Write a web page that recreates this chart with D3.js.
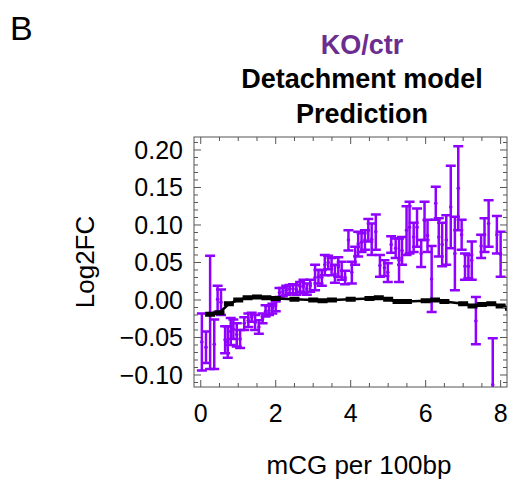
<!DOCTYPE html>
<html>
<head>
<meta charset="utf-8">
<script src="https://cdn.jsdelivr.net/npm/d3@7"></script>
<style>
  body { margin: 0; background: #fff; }
  text { font-family: "Liberation Sans", Arial, sans-serif; }
</style>
</head>
<body>
<script>
// KO/ctr measured log2FC: bin centre, mean, lower, upper
var binX = [0.03, 0.14, 0.25, 0.36, 0.45, 0.54, 0.65, 0.72, 0.80, 0.87, 0.96, 1.05, 1.16, 1.27, 1.36, 1.45,
  1.55, 1.65, 1.73, 1.82, 1.91, 2.00, 2.10, 2.19, 2.28, 2.37, 2.46, 2.55, 2.65, 2.74, 2.83, 2.92,
  3.05, 3.14, 3.23, 3.31, 3.40, 3.49, 3.58, 3.67, 3.76, 3.85, 3.94, 4.03, 4.12, 4.20, 4.29, 4.38,
  4.47, 4.56, 4.67, 4.78, 4.90, 4.99, 5.08, 5.20, 5.29, 5.37, 5.49, 5.57, 5.68, 5.77, 5.88, 5.97,
  6.05, 6.16, 6.27, 6.35, 6.44, 6.55, 6.67, 6.78, 6.87, 6.96, 7.05, 7.14, 7.23, 7.34, 7.48, 7.57,
  7.68, 7.79, 7.90, 8.00];
var lower = [-0.094, -0.084, -0.092, -0.092, -0.016, -0.020, -0.071, -0.077, -0.060, -0.052, -0.062, -0.064, -0.040, -0.036, -0.029, -0.040,
  -0.045, -0.031, -0.022, -0.020, -0.018, -0.015, 0.004, 0.005, 0.007, 0.009, 0.009, 0.007, 0.011, 0.009, 0.007, 0.011,
  0.013, 0.022, 0.019, 0.033, 0.041, 0.033, 0.023, 0.031, 0.027, 0.021, 0.066, 0.022, 0.047, 0.058, 0.064, 0.067,
  0.078, 0.060, 0.067, 0.031, 0.032, 0.024, 0.063, 0.056, 0.024, 0.047, 0.060, 0.062, 0.064, 0.071, 0.044, 0.080,
  0.064, -0.016, 0.107, 0.058, 0.045, 0.047, 0.069, 0.013, 0.093, 0.067, 0.027, 0.029, 0.027, -0.059, 0.056, 0.064,
  0.071, -0.175, 0.062, 0.031];
var upper = [-0.018, -0.042, 0.059, -0.026, 0.019, 0.014, -0.035, -0.035, -0.024, -0.026, -0.031, -0.040, -0.023, -0.018, -0.017, -0.020,
  -0.027, -0.018, -0.007, -0.008, -0.005, -0.002, 0.016, 0.016, 0.019, 0.020, 0.021, 0.020, 0.024, 0.027, 0.022, 0.027,
  0.047, 0.040, 0.040, 0.060, 0.059, 0.056, 0.047, 0.057, 0.051, 0.039, 0.093, 0.051, 0.071, 0.091, 0.089, 0.093,
  0.108, 0.102, 0.114, 0.060, 0.053, 0.049, 0.085, 0.082, 0.082, 0.084, 0.125, 0.131, 0.103, 0.122, 0.080, 0.131,
  0.107, 0.072, 0.151, 0.109, 0.103, 0.113, 0.179, 0.111, 0.205, 0.107, 0.062, 0.060, 0.078, 0.004, 0.087, 0.109,
  0.133, -0.051, 0.112, 0.091];
var meanVal = [-0.056, -0.063, -0.017, -0.059, 0.001, -0.003, -0.053, -0.056, -0.042, -0.039, -0.046, -0.052, -0.031, -0.027, -0.023, -0.030,
  -0.036, -0.025, -0.015, -0.014, -0.011, -0.008, 0.010, 0.011, 0.013, 0.015, 0.015, 0.014, 0.018, 0.018, 0.015, 0.019,
  0.030, 0.031, 0.030, 0.047, 0.050, 0.045, 0.035, 0.044, 0.039, 0.030, 0.080, 0.037, 0.059, 0.075, 0.077, 0.080,
  0.093, 0.081, 0.091, 0.046, 0.043, 0.037, 0.074, 0.069, 0.053, 0.066, 0.093, 0.097, 0.084, 0.097, 0.062, 0.106,
  0.086, 0.028, 0.129, 0.084, 0.074, 0.080, 0.124, 0.062, 0.149, 0.087, 0.045, 0.045, 0.053, -0.028, 0.072, 0.087,
  0.102, -0.113, 0.087, 0.061];

// detachment model prediction
var predX = [0.25, 0.5, 0.75, 1.0, 1.25, 1.5, 1.75, 2.0, 2.5, 3.0, 3.25, 3.5, 4.0, 4.5, 4.75, 5.0, 5.25, 5.5,
  6.0, 6.25, 6.5, 7.0, 7.25, 7.5, 7.75, 8.0, 8.25];
var predY = [-0.019, -0.017, -0.005, 0.000, 0.003, 0.004, 0.003, 0.002, 0.001, 0.000, -0.001, 0.000, 0.001, 0.002, 0.003, 0.001, -0.002, -0.002,
  -0.001, 0.000, -0.002, -0.005, -0.008, -0.006, -0.005, -0.008, -0.011];

var xTicks = [0, 2, 4, 6, 8];
var yTicks = [-0.10, -0.05, 0.00, 0.05, 0.10, 0.15, 0.20];

function main() {
  var W = 509, H = 480;
  var pLeft = 194, pRight = 507, pTop = 137, pBottom = 387;
  var purple = "#8f00ff";

  var svg = d3.select("body").append("svg")
    .attr("width", W)
    .attr("height", H);

  var xScale = d3.scaleLinear().domain([-0.18, 8.17]).range([pLeft, pRight]);
  var yScale = d3.scaleLinear().domain([-0.116, 0.2173]).range([pBottom, pTop]);

  // clip to the frame
  svg.append("clipPath").attr("id", "plotclip")
    .append("rect")
    .attr("x", pLeft).attr("y", pTop)
    .attr("width", pRight - pLeft).attr("height", pBottom - pTop);

  var plot = svg.append("g").attr("clip-path", "url(#plotclip)");

  // measured error bars
  var pts = binX.map(function(x, i) {
    return {x: x, m: meanVal[i], lo: lower[i], hi: upper[i]};
  });
  var cap = 5;
  var bars = plot.append("g").attr("stroke", purple).attr("stroke-width", 2.5);
  pts.forEach(function(d) {
    var cx = xScale(d.x);
    bars.append("line").attr("x1", cx).attr("x2", cx).attr("y1", yScale(d.lo)).attr("y2", yScale(d.hi));
    bars.append("line").attr("x1", cx - cap).attr("x2", cx + cap).attr("y1", yScale(d.lo)).attr("y2", yScale(d.lo));
    bars.append("line").attr("x1", cx - cap).attr("x2", cx + cap).attr("y1", yScale(d.hi)).attr("y2", yScale(d.hi));
  });
  plot.append("g").selectAll("circle").data(pts).join("circle")
    .attr("cx", function(d) { return xScale(d.x); })
    .attr("cy", function(d) { return yScale(d.m); })
    .attr("r", 1.8)
    .attr("fill", purple);

  // prediction line
  var pred = predX.map(function(x, i) { return {x: x, y: predY[i]}; });
  var predLine = d3.line()
    .x(function(d) { return xScale(d.x); })
    .y(function(d) { return yScale(d.y); });
  plot.append("path")
    .datum(pred)
    .attr("fill", "none")
    .attr("stroke", "#000")
    .attr("stroke-width", 2.6)
    .attr("d", predLine);
  plot.append("g").selectAll("rect").data(pred).join("rect")
    .attr("x", function(d) { return xScale(d.x) - 5; })
    .attr("y", function(d) { return yScale(d.y) - 2.5; })
    .attr("width", 10)
    .attr("height", 5)
    .attr("fill", "#000");

  // frame with inward ticks on all sides
  var frame = svg.append("g").attr("stroke", "#555").attr("stroke-width", 1);
  frame.append("rect")
    .attr("x", pLeft).attr("y", pTop)
    .attr("width", pRight - pLeft).attr("height", pBottom - pTop)
    .attr("fill", "none");

  d3.range(0, 8.01, 0.5).forEach(function(v) {
    var major = Math.abs(v / 2 - Math.round(v / 2)) < 1e-6;
    var len = major ? 7 : 4;
    var px = xScale(v);
    frame.append("line").attr("x1", px).attr("x2", px).attr("y1", pBottom).attr("y2", pBottom - len);
    frame.append("line").attr("x1", px).attr("x2", px).attr("y1", pTop).attr("y2", pTop + len);
  });
  d3.range(-11, 22).map(function(k) { return k / 100; }).forEach(function(v) {
    var major = Math.abs(v / 0.05 - Math.round(v / 0.05)) < 1e-6;
    var len = major ? 7 : 4;
    var py = yScale(v);
    frame.append("line").attr("x1", pLeft).attr("x2", pLeft + len).attr("y1", py).attr("y2", py);
    frame.append("line").attr("x1", pRight).attr("x2", pRight - len).attr("y1", py).attr("y2", py);
  });

  // tick labels
  svg.append("g").selectAll("text").data(xTicks).join("text")
    .attr("x", function(d) { return xScale(d); })
    .attr("y", 422)
    .attr("text-anchor", "middle")
    .attr("font-size", 25)
    .text(function(d) { return d; });

  svg.append("g").selectAll("text").data(yTicks).join("text")
    .attr("x", 183)
    .attr("y", function(d) { return yScale(d) + 9; })
    .attr("text-anchor", "end")
    .attr("font-size", 25)
    .text(function(d) { return d3.format(".2f")(d).replace("-", "\u2212"); });

  // axis titles
  svg.append("text")
    .attr("x", 359).attr("y", 474)
    .attr("text-anchor", "middle")
    .attr("font-size", 26)
    .text("mCG per 100bp");

  svg.append("text")
    .attr("transform", "translate(94," + ((pTop + pBottom) / 2) + ") rotate(-90)")
    .attr("text-anchor", "middle")
    .attr("font-size", 26)
    .text("Log2FC");

  // titles
  svg.append("text").attr("x", 10).attr("y", 40)
    .attr("font-size", 34)
    .text("B");

  svg.append("text").attr("x", 362).attr("y", 54)
    .attr("text-anchor", "middle")
    .attr("font-size", 27).attr("font-weight", "bold")
    .attr("fill", "#6b2d90")
    .text("KO/ctr");
  svg.append("text").attr("x", 362).attr("y", 88)
    .attr("text-anchor", "middle")
    .attr("font-size", 27).attr("font-weight", "bold")
    .text("Detachment model");
  svg.append("text").attr("x", 362).attr("y", 123)
    .attr("text-anchor", "middle")
    .attr("font-size", 27).attr("font-weight", "bold")
    .text("Prediction");
}

main();
</script>
</body>
</html>
